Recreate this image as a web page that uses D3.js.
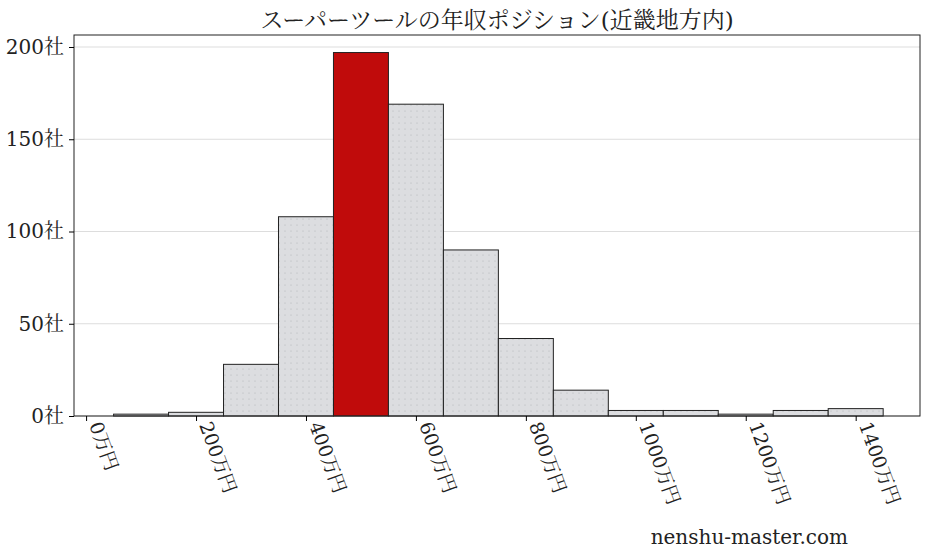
<!DOCTYPE html>
<html><head><meta charset="utf-8">
<script src="https://cdn.jsdelivr.net/npm/d3@7"></script>
<style>body{margin:0;background:#fff}text{font-family:"DejaVu Serif","Noto Serif CJK JP","Noto Sans CJK JP",serif;fill:#222}</style>
</head><body>
<svg id="c" width="927" height="557"></svg>
<script>
const binStarts = [50,150,250,350,450,550,650,750,850,950,1050,1150,1250,1350];
const counts = [1,2,28,108,197,169,90,42,14,3,3,1,3,4];
const highlightIndex = 4;
const xTicks = [0,200,400,600,800,1000,1200,1400];
const yTicks = [0,50,100,150,200];
const title = "スーパーツールの年収ポジション(近畿地方内)";

const svg = d3.select("#c");
const L=74,R=920,T=35,B=416;
const x = d3.scaleLinear().domain([-22,1517]).range([L,R]);
const y = d3.scaleLinear().domain([0,200]).range([B,47]);

const defs = svg.append("defs");
const p = defs.append("pattern").attr("id","dots").attr("width",6).attr("height",6).attr("patternUnits","userSpaceOnUse");
p.append("rect").attr("width",6).attr("height",6).attr("fill","#dcdde0");
p.append("circle").attr("cx",3).attr("cy",3).attr("r",0.5).attr("fill","#a9abb0");

svg.append("g").selectAll("line").data(yTicks).join("line")
 .attr("x1",L).attr("x2",R).attr("y1",d=>y(d)).attr("y2",d=>y(d)).attr("stroke","#ddd");

svg.append("g").selectAll("rect").data(counts).join("rect")
 .attr("x",(d,i)=>x(binStarts[i])).attr("width",(d,i)=>x(binStarts[i]+100)-x(binStarts[i]))
 .attr("y",d=>y(d)).attr("height",d=>B-y(d))
 .attr("fill",(d,i)=>i===highlightIndex?"#c00b0b":"url(#dots)")
 .attr("stroke","#222").attr("stroke-width",1);

svg.append("rect").attr("x",L).attr("y",T).attr("width",R-L).attr("height",B-T).attr("fill","none").attr("stroke","#222");

const ya = svg.append("g").attr("transform",`translate(${L},0)`)
 .call(d3.axisLeft(y).tickValues(yTicks).tickFormat(d=>d+"社").tickSize(5));
ya.select(".domain").remove();
ya.selectAll("text").attr("font-size",20).attr("dx",-2).attr("fill","#222");

const xa = svg.append("g").attr("transform",`translate(0,${B})`)
 .call(d3.axisBottom(x).tickValues(xTicks).tickFormat(d=>d+"万円").tickSize(5));
xa.select(".domain").remove();
xa.selectAll("text").attr("font-size",19).attr("text-anchor","start")
 .attr("transform","rotate(70)").attr("x",9).attr("y",-6).attr("dy","0.35em").attr("fill","#222");

svg.append("text").attr("x",497).attr("y",28).attr("text-anchor","middle").attr("font-size",23).text(title);
svg.append("text").attr("x",848).attr("y",544).attr("text-anchor","end").attr("font-size",20).text("nenshu-master.com");
</script></body></html>
